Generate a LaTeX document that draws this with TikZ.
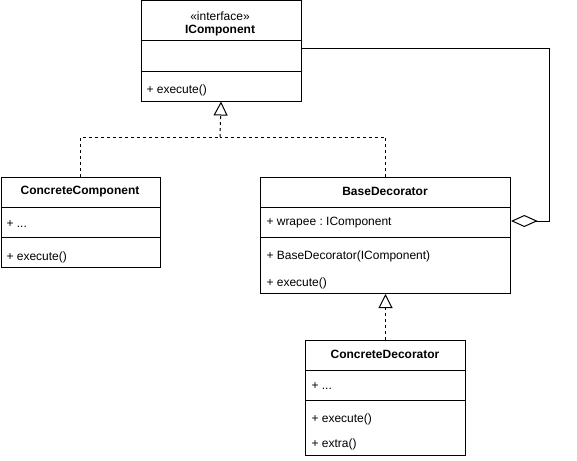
\documentclass[tikz,border=0pt]{standalone}
\usepackage{fontspec}
\setmainfont{Liberation Sans}
\usetikzlibrary{arrows.meta}
\frenchspacing
\begin{document}
\begin{tikzpicture}[x=0.75pt,y=-0.75pt,line width=0.75pt,
  classbox/.style={draw,anchor=north west,inner sep=0pt},
  member/.style={anchor=west,inner sep=0pt,yshift=-1.3pt,font=\fontsize{9}{11}\selectfont},
  classtitle/.style={inner sep=0pt,yshift=-1.3pt,font=\bfseries\fontsize{9}{11}\selectfont},
  stereo/.style={inner sep=0pt,yshift=-0.8pt,font=\fontsize{9}{11}\selectfont},
  realize/.style={dash pattern=on 2.25pt off 2.25pt},
  realizetip/.style={realize,-{Triangle[open,length=10.5pt,width=10.5pt]}},
  aggregate/.style={{Diamond[open,length=20pt,width=9pt]}-}]
\useasboundingbox (0,0) rectangle (577,460);

% IComponent interface
\node[classbox,minimum width=120pt,minimum height=75pt] (ic) at (140.5,0.5) {};
\node[stereo] (icst) at (220,15) {«interface»};
\node[classtitle] (icti) at (220,29) {IComponent};
\draw (ic.west |- 0,41) -- (ic.east |- 0,41);
\draw (ic.west |- 0,71) -- (ic.east |- 0,71);
\node[member] (icm1) at (146,89) {+ execute()};

% ConcreteComponent
\node[classbox,minimum width=119.6pt,minimum height=67.5pt] (cc) at (0.5,177) {};
\node[classtitle] (ccti) at (80,190) {ConcreteComponent};
\draw (cc.west |- 0,207) -- (cc.east |- 0,207);
\draw (cc.west |- 0,237) -- (cc.east |- 0,237);
\node[member] (cca1) at (6,222) {+ ...};
\node[member] (ccm1) at (6,256) {+ execute()};

% BaseDecorator
\node[classbox,minimum width=187.5pt,minimum height=87pt] (bd) at (260,177) {};
\node[classtitle] (bdti) at (385,190) {BaseDecorator};
\draw (bd.west |- 0,207) -- (bd.east |- 0,207);
\draw (bd.west |- 0,237) -- (bd.east |- 0,237);
\node[member] (wrapee) at (266,221) {+ wrapee : IComponent};
\node[member] (bdm1) at (266,255) {+ BaseDecorator(IComponent)};
\node[member] (bdm2) at (266,282) {+ execute()};

% ConcreteDecorator
\node[classbox,minimum width=120pt,minimum height=86.25pt] (cd) at (305,340) {};
\node[classtitle] (cdti) at (385,353) {ConcreteDecorator};
\draw (cd.west |- 0,370) -- (cd.east |- 0,370);
\draw (cd.west |- 0,400) -- (cd.east |- 0,400);
\node[member] (cda1) at (311,384) {+ ...};
\node[member] (cdm1) at (311,418) {+ execute()};
\node[member] (cdm2) at (311,443) {+ extra()};

% realization of IComponent
\coordinate (join) at (220,137);
\draw[realize] (cc.north) |- (join);
\draw[realize] (bd.north) |- (join);
\draw[realizetip] (join) -- (ic.south);

% ConcreteDecorator extends BaseDecorator
\draw[realizetip] (cd.north) -- (bd.south);

% BaseDecorator aggregates an IComponent
\coordinate (icport) at (ic.east |- 0,49);
\draw[aggregate] (bd.east |- 0,221) -- (549,221) -- (549,49) -- (icport);
\end{tikzpicture}
\end{document}
